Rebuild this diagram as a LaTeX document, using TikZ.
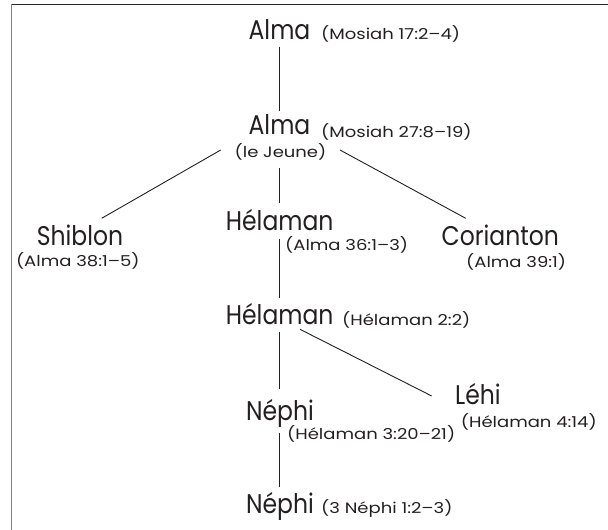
\documentclass[tikz,border=0pt]{standalone}
\usepackage{fontspec}
\setmainfont{Poppins}
\newfontfamily\namefont[FakeStretch=0.87]{Poppins}
\newfontfamily\reffont[FakeStretch=1.2]{Poppins}
\usetikzlibrary{calc}
\definecolor{ink}{HTML}{231F20}
\tikzset{
  person/.style={inner sep=0pt, anchor=base, text=ink, font=\namefont\fontsize{27}{30}\selectfont, text height=19.5pt, text depth=0pt},
  refw/.style={inner sep=0pt, anchor=base west, text=ink, font=\reffont\fontsize{15}{17}\selectfont},
  refc/.style={inner sep=0pt, anchor=base, text=ink, font=\reffont\fontsize{15}{17}\selectfont},
  conn/.style={draw=ink, line width=0.9pt},
}
\begin{document}
\begin{tikzpicture}[x=1pt,y=-1pt]
\useasboundingbox (0,0) rectangle (608,530);
% frame
\draw[line width=1.3pt, draw=black!85] (11,4.5) -- (608,4.5);
\draw[line width=1.5pt, draw=black!50] (11.7,4) -- (11.7,530);
% people
\node[person] (alma1) at (279.5,39.3) {Alma};
\node[refw] (ralma1) at (321,39) {(Mosiah 17:2–4)};
\node[person] (alma2) at (279.5,134.5) {Alma};
\node[refw] (ralma2) at (321,137) {(Mosiah 27:8–19)};
\node[refc] (jeune) at (280.5,157.5) {(le Jeune)};
\node[person] (hel1) at (279.7,230) {Hélaman};
\node[refw] (rhel1) at (285,250.5) {(Alma 36:1–3)};
\node[person] (shib) at (80,245) {Shiblon};
\node[refc] (rshib) at (77.8,266) {(Alma 38:1–5)};
\node[person] (cor) at (500.3,245) {Corianton};
\node[refw] (rcor) at (466,267) {(Alma 39:1)};
\node[person] (hel2) at (279.7,324.5) {Hélaman};
\node[refw] (rhel2) at (342,325) {(Hélaman 2:2)};
\node[person] (lehi) at (478,404) {Léhi};
\node[refw] (rlehi) at (460.7,427) {(Hélaman 4:14)};
\node[person] (neph1) at (280,420) {Néphi};
\node[refw] (rneph1) at (287,439.5) {(Hélaman 3:20–21)};
\node[person] (neph2) at (280,513.3) {Néphi};
\node[refw] (rneph2) at (321,513.5) {(3 Néphi 1:2–3)};
% connectors
\draw[conn] ([yshift=-7.4pt]alma1.south -| 279,0) -- ([yshift=4pt]alma2.north -| 279,0);
\draw[conn] ($(alma2.base)+(-58.8,15.5)$) -- ($(shib.base)+(21.7,-26.7)$);
\draw[conn] ($(alma2.base)+(60.5,15.5)$) -- ($(cor.base)+(-34.6,-26.7)$);
\draw[conn] ($(jeune.base)+(-1.5,10.8)$) -- ($(hel1.base)+(-0.7,-26.7)$);
\draw[conn] ($(hel1.base)+(-0.7,9.3)$) -- ($(hel2.base)+(-0.7,-26.2)$);
\draw[conn] ($(hel2.base)+(-0.7,7.2)$) -- ($(neph1.base)+(-1,-30.7)$);
\draw[conn] ($(hel2.base)+(20.3,4.8)$) -- ($(lehi.base)+(-46.3,-8)$);
\draw[conn] ($(neph1.base)+(-1,13.3)$) -- ($(neph2.base)+(-1,-26.6)$);
\end{tikzpicture}
\end{document}
